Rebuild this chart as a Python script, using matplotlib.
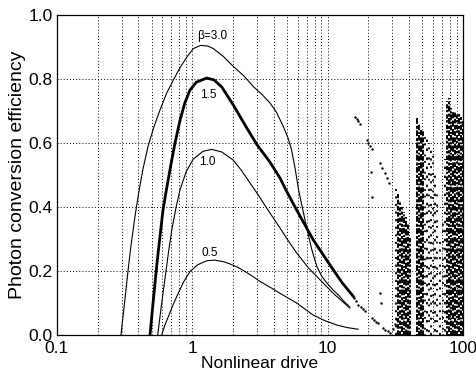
import matplotlib
matplotlib.use('Agg')
import matplotlib.pyplot as plt
from matplotlib.ticker import LogLocator, FixedLocator, FixedFormatter, NullFormatter

plt.rcParams['font.family'] = ['Liberation Sans', 'DejaVu Sans']

# smooth efficiency curves, one per beta
b30_x = [0.297, 0.31, 0.325, 0.34, 0.356, 0.377, 0.40, 0.43, 0.471, 0.52, 0.577, 0.645, 0.724, 0.81,
         0.909, 1.017, 1.15, 1.3, 1.43, 1.7, 2.0, 2.4, 2.83, 3.3, 3.75, 4.2, 4.71, 5.1, 5.4, 5.75, 6.1,
         6.6, 7.0, 7.6, 8.3, 9.0, 9.84, 11.0, 12.0, 13.2, 14.5]
b30_y = [0.0, 0.07, 0.15, 0.225, 0.295, 0.37, 0.44, 0.515, 0.59, 0.65, 0.703, 0.755, 0.797, 0.835,
         0.868, 0.895, 0.905, 0.903, 0.895, 0.87, 0.84, 0.81, 0.776, 0.75, 0.725, 0.695, 0.651, 0.615,
         0.58, 0.52, 0.453, 0.385, 0.335, 0.27, 0.215, 0.185, 0.163, 0.14, 0.125, 0.105, 0.088]

b15_x = [0.487, 0.51, 0.535, 0.56, 0.584, 0.607, 0.635, 0.66, 0.70, 0.745, 0.81, 0.88, 0.96, 1.07,
         1.28, 1.45, 1.65, 2.0, 2.5, 3.0, 3.75, 4.45, 4.92, 5.91, 7.83, 10.4, 12.7, 15.5]
b15_y = [0.0, 0.09, 0.18, 0.26, 0.328, 0.39, 0.44, 0.48, 0.54, 0.60, 0.67, 0.725, 0.765, 0.79,
         0.803, 0.797, 0.775, 0.72, 0.65, 0.595, 0.54, 0.49, 0.453, 0.39, 0.297, 0.219, 0.165, 0.12]

b10_x = [0.555, 0.59, 0.63, 0.665, 0.705, 0.755, 0.81, 0.9, 1.017, 1.2, 1.39, 1.65, 2.0, 2.3, 2.67,
         3.1, 3.5, 4.45, 5.2, 5.91, 7.2, 8.8, 11.0, 14.6]
b10_y = [0.0, 0.09, 0.18, 0.255, 0.328, 0.395, 0.453, 0.51, 0.55, 0.574, 0.58, 0.572, 0.547, 0.515,
         0.475, 0.435, 0.40, 0.334, 0.29, 0.256, 0.21, 0.172, 0.13, 0.084]

b05_x = [0.594, 0.625, 0.665, 0.71, 0.767, 0.86, 0.96, 1.1, 1.28, 1.45, 1.7, 1.9, 2.2, 2.46, 2.8,
         3.17, 3.8, 4.45, 5.9, 7.8, 9.5, 11.7, 14.0, 16.8]
b05_y = [0.0, 0.03, 0.057, 0.088, 0.12, 0.165, 0.198, 0.22, 0.232, 0.234, 0.229, 0.222, 0.21, 0.198,
         0.183, 0.167, 0.148, 0.13, 0.10, 0.0625, 0.045, 0.031, 0.023, 0.018]

labels = ['\u03b2=3.0', '1.5', '1.0', '0.5']
label_x = [1.40, 1.31, 1.30, 1.35]
label_y = [0.934, 0.75, 0.54, 0.257]

# single points beyond the smooth region
tail_x = [15.6, 16.2, 16.8, 17.5, 18.2, 18.9, 21.2, 22.0, 22.8, 23.7, 25.7, 26.7, 27.8, 28.9]
tail_y = [0.115, 0.105, 0.095, 0.088, 0.082, 0.076, 0.053, 0.048, 0.042, 0.037, 0.022, 0.017, 0.012, 0.007]

pts_x = [16.0, 16.4, 16.8, 17.2, 19.5, 20.0, 20.6, 21.2, 20.8, 21.2, 24.4, 25.3, 26.3, 27.3, 28.4,
         24.4, 24.6, 32.0, 30.5, 31.5]
pts_y = [0.682, 0.675, 0.668, 0.66, 0.61, 0.60, 0.59, 0.58, 0.51, 0.43, 0.536, 0.522, 0.506, 0.49, 0.474,
         0.131, 0.10, 0.05, 0.02, 0.035]

# chaotic bands, read as columns of dots: x, bottom, top
dense_x = [33.1, 34.3, 35.5, 36.7, 38.0, 39.3, 40.6,
           45.8, 47.4, 49.0, 50.7,
           76.3, 78.9, 81.7, 84.5, 87.4, 90.4, 93.6, 96.8, 99.3]
dense_lo = [0.0, 0.0, 0.0, 0.0, 0.0, 0.0, 0.0,
            0.0, 0.0, 0.0, 0.0,
            0.0, 0.0, 0.0, 0.0, 0.0, 0.0, 0.0, 0.0, 0.0]
dense_hi = [0.44, 0.42, 0.40, 0.385, 0.37, 0.35, 0.31,
            0.68, 0.66, 0.64, 0.64,
            0.73, 0.74, 0.71, 0.70, 0.70, 0.69, 0.69, 0.68, 0.67]

sparse_x = [32.0, 52.5, 54.3, 56.2, 58.1, 60.1, 62.2, 64.4, 67.7, 71.3, 73.8]
sparse_lo = [0.0, 0.0, 0.0, 0.0, 0.0, 0.05, 0.0, 0.0, 0.0, 0.0, 0.0]
sparse_hi = [0.455, 0.64, 0.62, 0.60, 0.59, 0.57, 0.50, 0.45, 0.30, 0.35, 0.55]

dense_styles = [(0, (2.4, 0.8)), (1.1, (1.6, 1.0, 3.0, 0.7)), (0.4, (3.2, 1.1)),
                (2.0, (1.2, 0.7, 2.2, 1.2)), (0.7, (2.8, 0.6, 1.0, 0.9))]
sparse_styles = [(0, (1.2, 3.0)), (1.5, (1.0, 2.0, 1.2, 4.5)), (3.1, (1.4, 3.6)),
                 (0.6, (1.0, 2.6, 1.0, 5.0))]

fig = plt.figure(figsize=(4.76, 3.75), dpi=100)
ax = fig.add_axes([0.1197, 0.1067, 0.853, 0.8533])

ax.plot(b30_x, b30_y, color='black', lw=0.8)
ax.plot(b15_x, b15_y, color='black', lw=2.0)
ax.plot(b10_x, b10_y, color='black', lw=0.8)
ax.plot(b05_x, b05_y, color='black', lw=0.8)
for t, x, y in zip(labels, label_x, label_y):
    ax.text(x, y, t, fontsize=8.5, ha='center', va='center')

ax.scatter(tail_x, tail_y, s=3, color='black', lw=0)
ax.scatter(pts_x, pts_y, s=3, color='black', lw=0)

for i, (x, lo, hi) in enumerate(zip(dense_x, dense_lo, dense_hi)):
    ax.vlines(x, lo, hi, color='black', lw=1.4, linestyles=[dense_styles[(i * 3) % 5]])
for i, (x, lo, hi) in enumerate(zip(sparse_x, sparse_lo, sparse_hi)):
    ax.vlines(x, lo, hi, color='black', lw=1.3, linestyles=[sparse_styles[(i * 3) % 4]])

ax.set_xscale('log')
ax.set_xlim(0.1, 100)
ax.set_ylim(0, 1.0)
ax.xaxis.set_major_locator(FixedLocator([0.1, 1, 10, 100]))
ax.xaxis.set_major_formatter(FixedFormatter(['0.1', '1', '10', '100']))
ax.xaxis.set_minor_locator(LogLocator(base=10, subs=[2, 3, 4, 5, 6, 7, 8, 9]))
ax.xaxis.set_minor_formatter(NullFormatter())
ax.set_yticks([0.0, 0.2, 0.4, 0.6, 0.8, 1.0])
ax.set_yticklabels(['0.0', '0.2', '0.4', '0.6', '0.8', '1.0'])
ax.tick_params(which='both', length=0, labelsize=12.5)
ax.tick_params(axis='x', pad=4)
ax.tick_params(axis='y', pad=3)

ax.grid(True, which='both', axis='x', color='black', lw=0.7, linestyle=(0, (1, 2.2)))
ax.grid(True, which='major', axis='y', color='black', lw=0.7, linestyle=(0, (1, 2.2)))
for s in ax.spines.values():
    s.set_linewidth(0.9)

ax.set_xlabel('Nonlinear drive', fontsize=12.5, labelpad=0)
ax.set_ylabel('Photon conversion efficiency', fontsize=14, labelpad=2)

fig.savefig('out.png', dpi=100)
